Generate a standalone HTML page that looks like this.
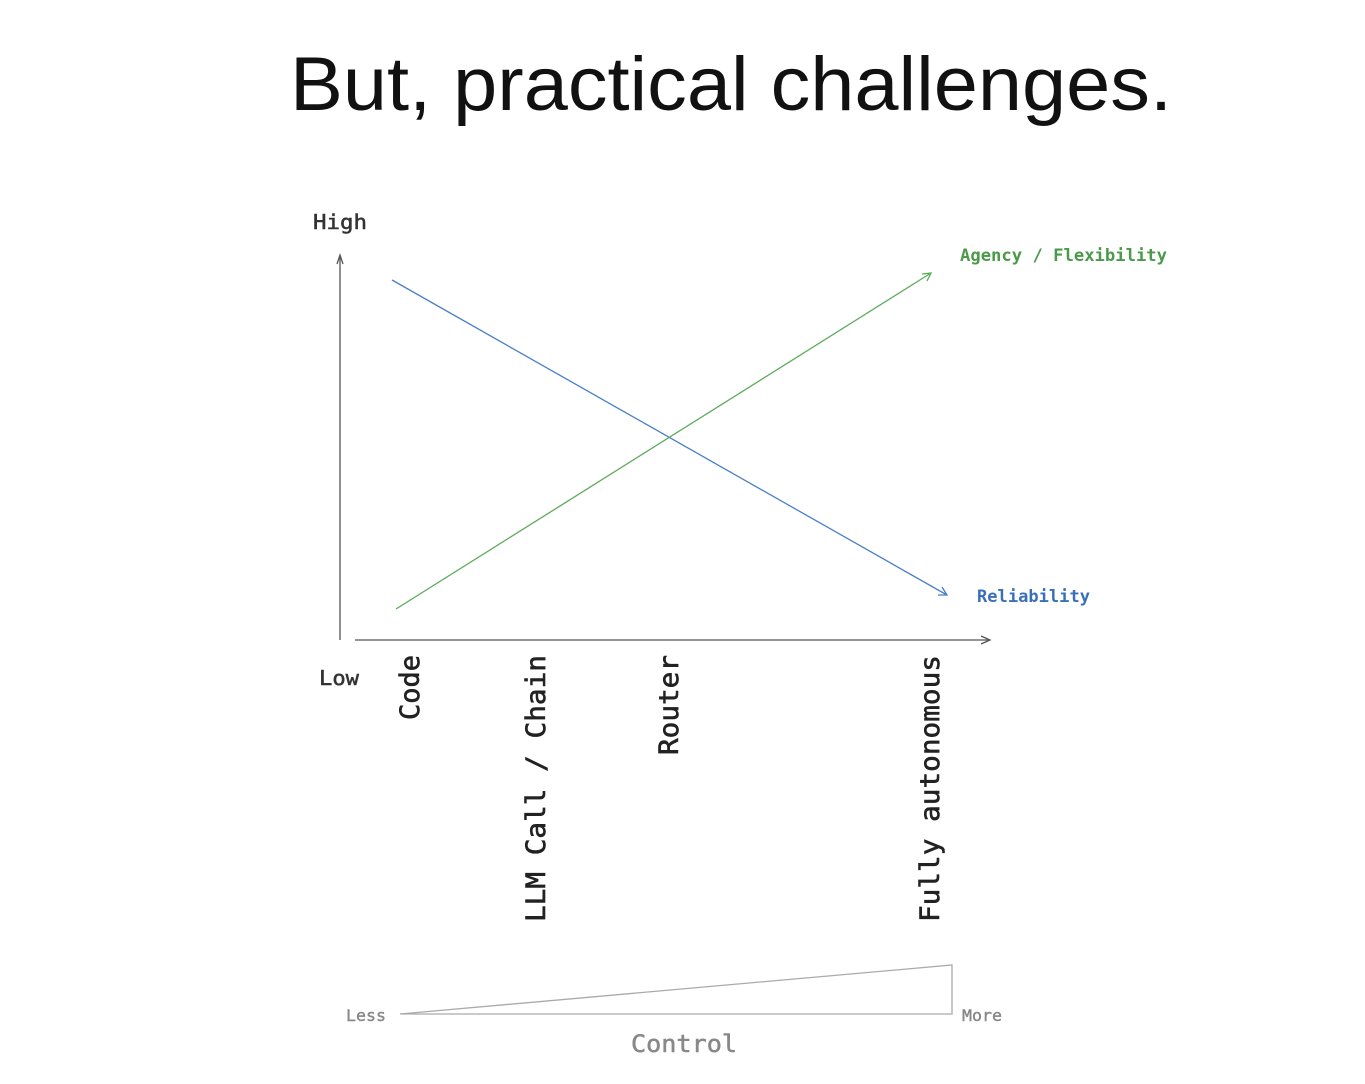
<!DOCTYPE html>
<html><head><meta charset="utf-8"><style>
html,body{margin:0;padding:0;background:#fff;width:1365px;height:1084px;overflow:hidden}
svg{display:block}
.m{font-family:"DejaVu Sans Mono","Liberation Mono",monospace}
</style></head><body>
<svg width="1365" height="1084" viewBox="0 0 1365 1084">
<text x="290" y="110" font-family="Liberation Sans, sans-serif" font-size="76" fill="#111" textLength="882" lengthAdjust="spacingAndGlyphs">But, practical challenges.</text>
<g class="m">
<text x="313" y="229" font-size="20" fill="#333" stroke="#333" stroke-width="0.5" textLength="54" lengthAdjust="spacingAndGlyphs">High</text>
<text x="319" y="685" font-size="20" fill="#333" stroke="#333" stroke-width="0.5" textLength="40" lengthAdjust="spacingAndGlyphs">Low</text>
<text x="960" y="261" font-size="17" fill="#4a9a4a" font-weight="bold" textLength="207" lengthAdjust="spacingAndGlyphs">Agency / Flexibility</text>
<text x="977" y="602" font-size="17" fill="#3a70b8" font-weight="bold" textLength="113" lengthAdjust="spacingAndGlyphs">Reliability</text>
<g font-size="27" fill="#222" stroke="#222" stroke-width="0.6">
<text transform="translate(419,655) rotate(-90)" text-anchor="end" textLength="65" lengthAdjust="spacingAndGlyphs">Code</text>
<text transform="translate(545,655) rotate(-90)" text-anchor="end" textLength="267" lengthAdjust="spacingAndGlyphs">LLM Call / Chain</text>
<text transform="translate(678,655) rotate(-90)" text-anchor="end" textLength="100" lengthAdjust="spacingAndGlyphs">Router</text>
<text transform="translate(939,655) rotate(-90)" text-anchor="end" textLength="267" lengthAdjust="spacingAndGlyphs">Fully autonomous</text>
</g>
<text x="346" y="1021" font-size="16" fill="#888" stroke="#888" stroke-width="0.4" textLength="40" lengthAdjust="spacingAndGlyphs">Less</text>
<text x="962" y="1021" font-size="16" fill="#888" stroke="#888" stroke-width="0.4" textLength="40" lengthAdjust="spacingAndGlyphs">More</text>
<text x="631" y="1052" font-size="24" fill="#888" stroke="#888" stroke-width="0.5" textLength="106" lengthAdjust="spacingAndGlyphs">Control</text>
</g>
<g fill="none" stroke-width="1.3">
<path d="M340 640 L340 256 M337 264 L340 255 L343 264" stroke="#555"/>
<path d="M355 640 L990 640 M981 636 L990 640 L981 644" stroke="#555"/>
<path d="M392 280 L947 595 M938 595 L947 595 L942 587" stroke="#4a7fc8"/>
<path d="M396 609 L931 273 M922 274 L931 273 L927 281" stroke="#5aab5a"/>
<path d="M400 1014 L952 965 L952 1014 Z" stroke="#aaa"/>
</g>
</svg>
</body></html>
